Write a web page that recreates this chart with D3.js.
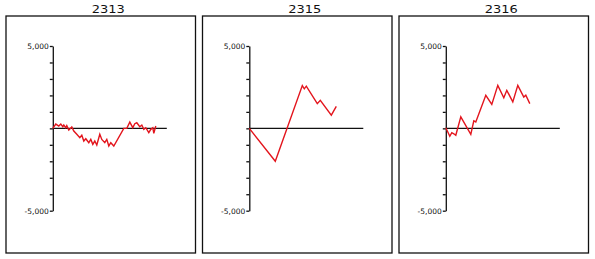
<!DOCTYPE html>
<html>
<head>
<meta charset="utf-8">
<script src="https://cdn.jsdelivr.net/npm/d3@7"></script>
<style>
  body { margin: 0; background: #fff; }
</style>
</head>
<body>
<svg id="chart"></svg>
<script>
const width = 595;
const height = 259;

const titles = ["2313", "2315", "2316"];

const x2313 = [0, 1.5, 3, 4, 5, 5.5, 6.5, 7, 8, 9.5, 10.5, 12, 13.5, 14.5, 15.5, 16.5, 18, 19, 20, 21, 22, 23.5, 24.5, 26, 27, 28, 29, 30.5, 35.5, 37, 38.5, 40, 41, 42, 43.5, 44.5, 45.5, 46.5, 48, 49, 50, 50.5, 51.5];
const v2313 = [0, 260, 140, 260, 100, 200, 40, 160, -100, 80, -160, -360, -570, -420, -770, -630, -870, -670, -970, -770, -1010, -360, -670, -870, -670, -1070, -870, -1070, 0, 0, 380, 40, 280, 340, 100, 200, -60, 40, -260, -60, 40, -300, 140];

const x2315 = [0, 13, 26.5, 27.5, 28.5, 34, 35.5, 41, 43.5];
const v2315 = [0, -2000, 2600, 2400, 2560, 1500, 1700, 800, 1330];

const x2316 = [0, 2, 3, 4, 5, 7.5, 12.5, 14, 15, 20, 23, 26, 29, 30.5, 33.5, 36, 39, 40, 42];
const v2316 = [40, -480, -260, -330, -420, 700, -360, 460, 390, 2010, 1450, 2610, 1860, 2310, 1610, 2610, 1900, 2010, 1500];

const seriesX = [x2313, x2315, x2316];
const seriesV = [v2313, v2315, v2316];

const yTicks = d3.range(-5000, 5001, 1000);

const boxLeft = [6, 202.5, 399];
const boxW = 189.5;
const boxTop = 16;
const boxBottom = 253;
const axisOffset = 46.8;
const plotW = 114;

const svg = d3.select("#chart")
    .attr("width", width)
    .attr("height", height);

const y = d3.scaleLinear().domain([-5000, 5000]).range([210.7, 46]);
const x = d3.scaleLinear().domain([0, 57]).range([0, plotW]);

// plain hyphen for negatives, like the original
const fmt = d => d3.format(",")(d).replace("\u2212", "-");

titles.forEach((title, i) => {
    const g = svg.append("g");
    const left = boxLeft[i];

    g.append("rect")
        .attr("x", left)
        .attr("y", boxTop)
        .attr("width", boxW)
        .attr("height", boxBottom - boxTop)
        .attr("fill", "none")
        .attr("stroke", "#111")
        .attr("stroke-width", 1.3);

    g.append("text")
        .attr("x", left + boxW / 2 + 7.5)
        .attr("y", 12.5)
        .attr("text-anchor", "middle")
        .attr("textLength", 33)
        .attr("lengthAdjust", "spacingAndGlyphs")
        .style("font-family", "DejaVu Sans")
        .style("font-size", "10.5px")
        .style("fill", "#111")
        .text(title);

    const plot = g.append("g")
        .attr("transform", `translate(${left + axisOffset},0)`);

    const axis = d3.axisLeft(y)
        .tickValues(yTicks)
        .tickSize(3)
        .tickSizeOuter(0)
        .tickPadding(1)
        .tickFormat(d => Math.abs(d) === 5000 ? fmt(d) : "");

    const ax = plot.append("g").call(axis);
    ax.select(".domain").attr("stroke", "#111").attr("stroke-width", 1.3);
    ax.selectAll(".tick line").attr("stroke", "#111").attr("stroke-width", 1.3);
    ax.selectAll(".tick text")
        .style("font-family", "DejaVu Sans")
        .style("font-size", "7.5px")
        .attr("fill", "#111");

    plot.append("line")
        .attr("x1", x(0))
        .attr("x2", x(57))
        .attr("y1", y(0))
        .attr("y2", y(0))
        .attr("stroke", "#111")
        .attr("stroke-width", 1.3);

    const pts = seriesX[i].map((d, j) => [d, seriesV[i][j]]);
    const line = d3.line()
        .x(d => x(d[0]))
        .y(d => y(d[1]));

    plot.append("path")
        .datum(pts)
        .attr("d", line)
        .attr("fill", "none")
        .attr("stroke", "#e3151d")
        .attr("stroke-width", 1.4)
        .attr("stroke-linejoin", "miter");
});
</script>
</body>
</html>
